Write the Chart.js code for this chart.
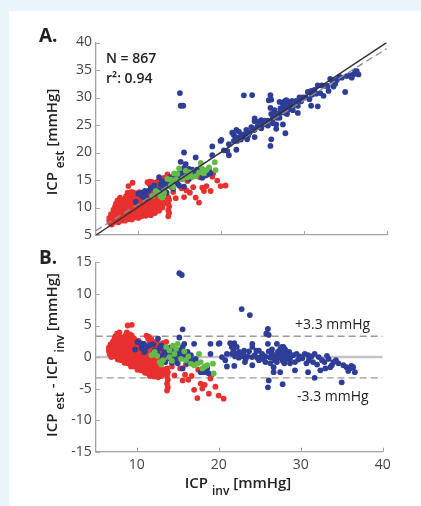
<!DOCTYPE html>
<html><head><meta charset="utf-8">
<script src="https://cdn.jsdelivr.net/npm/chart.js@4.4.1/dist/chart.umd.min.js"></script>
<style>
html,body{margin:0;padding:0;}
body{width:421px;height:506px;background:#e9f4fb;position:relative;overflow:hidden;}
#panel{position:absolute;left:9px;top:11px;width:412px;height:495px;background:#fff;}
canvas{position:absolute;left:0;}
#ca{top:0;}
#cb{top:250px;}
</style></head><body>
<div id="panel"></div>
<canvas id="ca" width="421" height="250"></canvas>
<canvas id="cb" width="421" height="256"></canvas>
<script>
// ---- data (ICP_inv, ICP_est - ICP_inv) per patient group ----
const xTicks = [10, 20, 30, 40];
const yTicksA = [5, 10, 15, 20, 25, 30, 35, 40];
const yTicksB = [-15, -10, -5, 0, 5, 10, 15];
const identityLine = [[5, 5], [40, 40]];
const regressionLine = [[5, 5.8], [40, 38.9]];
const limitValues = [3.3, -3.3];
const statsText = ['N = 867', 'r\u00b2: 0.94'];

const redPts = [
[8.9,5.0],[9.4,5.1],
[7.6,3.7],[7.9,3.9],[8.8,3.9],[9.2,3.6],
[7.4,3.3],[7.8,3.4],[8.6,3.4],[9.0,3.3],[9.4,3.4],[11.2,3.4],[11.5,3.2],
[7.3,2.9],[7.7,3.0],[8.1,3.1],[8.5,2.9],[8.9,3.0],[9.3,3.0],[9.7,2.9],[11.4,2.9],[11.8,2.8],
[7.1,2.5],[7.5,2.5],[7.9,2.6],[8.3,2.4],[8.7,2.5],[9.1,2.6],[9.5,2.5],[9.9,2.4],[10.2,2.6],[11.6,2.5],[12.0,2.4],[12.4,2.3],[12.8,2.0],[13.2,2.2],[13.6,2.4],
[6.8,2.0],[7.2,2.0],[7.6,2.1],[8.0,1.9],[8.4,2.0],[8.8,2.1],[9.2,2.0],[9.6,1.9],[10.0,2.0],[10.5,1.9],[11.8,2.0],[12.2,1.9],[12.6,1.7],[13.0,1.5],[13.3,1.3],
[6.6,1.5],[7.0,1.5],[7.4,1.6],[7.8,1.5],[8.2,1.4],[8.6,1.5],[9.0,1.6],[9.4,1.5],[9.8,1.4],[10.2,1.5],[10.6,1.4],[11.0,1.5],[11.4,1.4],[12.0,1.3],[12.6,1.1],[13.1,0.9],[13.5,0.7],
[6.6,1.0],[7.0,1.0],[7.4,0.9],[7.8,1.0],[8.2,1.1],[8.6,1.0],[9.0,0.9],[9.4,1.0],[9.8,1.0],[10.2,0.9],[10.6,1.0],[11.0,0.9],[11.4,1.0],[11.8,0.8],[12.3,0.6],[12.8,0.5],[13.3,0.3],
[6.7,0.5],[7.1,0.5],[7.5,0.4],[7.9,0.5],[8.3,0.5],[8.7,0.4],[9.1,0.5],[9.5,0.5],[9.9,0.4],[10.3,0.5],[10.7,0.4],[11.1,0.5],[11.5,0.3],[11.9,0.2],[12.4,0.1],[12.9,-0.1],
[6.9,0.0],[7.3,0.1],[7.7,0.0],[8.1,-0.1],[8.5,0.0],[8.9,0.0],[9.3,-0.1],[9.7,0.0],[10.1,0.0],[10.5,-0.1],[10.9,0.0],[11.3,-0.2],[11.7,-0.3],[12.1,-0.4],[12.6,-0.5],[13.0,-0.6],
[7.7,-0.4],[8.1,-0.5],[8.5,-0.5],[8.9,-0.6],[9.3,-0.5],[9.7,-0.5],[10.1,-0.6],[10.5,-0.5],[10.9,-0.6],[11.3,-0.7],[11.7,-0.8],[12.1,-0.9],[12.5,-1.0],[12.9,-1.1],
[8.5,-0.9],[8.9,-1.0],[9.3,-1.0],[9.7,-1.1],[10.1,-1.0],[10.5,-1.1],[10.9,-1.2],[11.3,-1.2],[11.7,-1.3],[12.1,-1.4],[12.5,-1.5],[12.9,-1.6],
[9.3,-1.5],[9.7,-1.5],[10.1,-1.6],[10.5,-1.6],[10.9,-1.7],[11.3,-1.7],[11.7,-1.8],[12.1,-1.9],[12.5,-2.0],[12.9,-2.1],[13.4,-2.0],
[10.1,-2.0],[10.5,-2.1],[10.9,-2.2],[11.3,-2.2],[11.7,-2.3],[12.1,-2.4],[12.5,-2.5],[12.9,-2.6],[13.3,-2.5],
[11.0,-2.5],[11.4,-2.6],[11.8,-2.7],[12.2,-2.8],[12.6,-2.9],[13.0,-3.0],
[11.6,-3.0],[12.1,-3.1],[12.6,-3.2],
[13.7,-1.8],[13.8,-2.4],[13.7,-3.0],[13.8,-3.6],[13.7,-4.2],[13.8,-4.8],[13.7,-5.3],
[14.3,-1.5],[14.6,-2.9],[15.3,-1.8],[15.6,-3.7],[15.9,-2.8],[16.0,-1.2],[16.3,-3.6],[16.7,-3.0],[17.0,-5.2],[17.4,-6.5],
[17.5,-2.0],[17.8,-4.2],[18.0,-5.0],[18.3,-4.4],[18.5,-1.6],[18.8,-5.8],[19.0,-3.4],[19.1,-2.9],[19.6,-4.7],[20.0,-6.1],[20.6,-6.6]
];

const greenPts = [
[11.8,0.3],[12.2,0.8],[12.5,0.2],[12.8,-0.8],[13.0,-1.2],[13.2,-0.5],[13.6,1.6],[14.0,0.0],[14.0,1.05],[14.3,-0.6],
[14.4,1.8],[14.6,0.5],[14.8,1.3],[15.0,2.1],[15.4,-0.3],[15.8,0.9],[16.0,-0.5],[16.3,0.1],[16.6,-1.05],[17.0,-1.3],
[17.4,-1.05],[17.6,0.5],[17.8,-0.8],[18.0,-1.8],[18.3,-1.5],[18.6,-1.3],[19.3,-1.05],[19.4,-2.6]
];

const bluePts = [
[15.1,15.7],[15.2,13.3],[15.5,13.0],
[9.8,1.2],[10.1,2.4],[10.5,2.2],[10.9,2.1],[10.6,1.4],[10.9,0.8],[11.3,1.7],[11.0,1.0],[11.6,1.9],[12.0,2.0],[12.6,2.9],
[12.2,1.0],[12.5,0.6],[12.8,1.4],[13.0,0.2],[13.0,1.8],[13.2,-0.3],[13.4,0.8],[13.5,-0.8],[13.6,1.2],[13.8,0.4],
[14.0,-0.2],[14.0,1.5],[14.2,0.6],[14.3,-0.9],[14.4,1.0],[14.6,0.2],[14.8,-0.4],[15.0,0.5],[15.0,-1.0],[15.2,1.1],
[15.4,0.0],[15.6,0.7],[15.8,-0.2],[16.0,0.4],[16.2,0.8],[16.4,-0.5],[16.6,0.3],[16.8,-0.6],[17.2,-0.3],[16.2,-1.0],
[15.6,1.6],[15.8,2.1],[15.2,3.1],[15.6,4.4],[17.0,2.1],[15.6,-1.8],[17.8,-2.4],[18.2,-2.4],[18.4,-2.4],[18.6,-1.8],
[18.8,-2.6],[19.0,2.1],[19.0,0.5],[20.0,2.1],
[22.8,7.6],[23.8,6.65],[26.0,4.45],[25.8,3.7],[26.1,3.5],[26.0,2.1],[20.1,2.2],[21.4,2.2],[21.9,2.2],[21.6,1.6],
[22.2,1.6],[24.1,1.6],[20.4,0.0],[20.8,-0.5],[21.0,-1.5],[21.9,-1.4],
[22.45,-0.1],[22.86,0.1],[23.5,0.1],[24.07,0.0],[24.7,-0.1],[25.1,0.0],[25.7,0.1],[26.3,-0.1],[26.9,0.1],[27.3,0.3],
[27.9,0.0],[28.3,0.3],[28.7,-0.3],[29.1,0.3],[29.5,0.5],[29.9,0.1],[30.5,0.5],[30.9,0.3],[31.3,0.1],[31.7,0.5],
[32.2,0.0],[32.6,-0.5],[32.9,-0.8],[33.4,-0.3],[33.8,-1.3],[34.3,-0.5],[34.6,-1.0],[35.2,-1.3],[35.6,-1.6],[36.0,-1.8],
[36.4,-1.6],[36.6,-2.4],
[26.0,-4.8],[26.1,-3.7],[26.7,-2.4],[27.5,-2.4],[27.8,-4.3],[26.7,-1.6],[24.1,-1.3],[23.2,-0.8],[24.9,-0.5],[31.7,-3.3],
[35.0,-4.0],[29.3,-2.1],[30.9,-2.4],[32.4,-2.1],[33.0,-1.8],[33.6,-1.6],[28.7,-1.0],[29.3,-0.8],[28.0,-1.0],[27.1,-0.8],
[26.3,-1.0],[25.7,-0.8],[30.7,-1.0],[31.5,-0.8],
[24.1,2.1],[24.6,1.0],[26.1,0.9],[26.5,1.2],[27.2,0.8],[27.5,1.3],[28.1,1.2],[28.4,0.5],[24.9,1.0],[23.7,0.9],
[23.1,1.0],[22.5,0.8],[21.8,1.0],[21.6,0.5],[21.0,0.5],[22.2,0.5],[25.3,0.5],[27.1,2.1],[27.7,1.6],[27.9,1.6],
[26.6,0.4],[27.0,-0.3],[27.4,-0.1],[27.6,0.6],[28.0,0.4],[28.2,-0.4],[28.5,0.0],[26.8,-0.5],[27.8,-0.6],[28.6,0.8],
[26.4,0.2],[23.0,0.4],[23.3,-0.3],[22.0,0.1],[25.5,-0.4],[24.4,0.3],[29.7,-0.4],[30.2,-0.2],[31.0,-0.5],[33.2,0.2],
[34.0,-0.8],[35.8,-2.2],[36.2,-1.4],[32.0,-1.2]
];

// ---- styling ----
const RED = '#e8312f', GREEN = '#63bb46', BLUE = '#2e3e98';
const AXIS = '#a3a3a3';
const TICKFONT = {family: '"Open Sans", "DejaVu Sans", sans-serif', size: 14, weight: 400};
const FAM = '"Open Sans", "DejaVu Sans", sans-serif';

const toA = pts => pts.map(p => ({x: p[0], y: p[0] + p[1]}));
const toB = pts => pts.map(p => ({x: p[0], y: p[1]}));
const lineData = arr => arr.map(p => ({x: p[0], y: p[1]}));

function pointDs(data, color) {
  return {data, backgroundColor: color, borderWidth: 0, pointRadius: 2.9, pointHoverRadius: 2.9, clip: 0};
}

function drawRich(ctx, segs, cx, cy, rot, color) {
  ctx.save();
  ctx.translate(cx, cy);
  if (rot) ctx.rotate(rot);
  ctx.fillStyle = color;
  ctx.textBaseline = 'alphabetic';
  ctx.textAlign = 'left';
  let w = 0;
  segs.forEach(s => { ctx.font = s.font; s.w = ctx.measureText(s.t).width; w += s.w; });
  let x = -w / 2;
  segs.forEach(s => { ctx.font = s.font; ctx.fillText(s.t, x, s.dy || 0); x += s.w; });
  ctx.restore();
}

const inwardTicks = {
  id: 'inwardTicks',
  afterDraw(chart) {
    const ctx = chart.ctx;
    ctx.save();
    ctx.strokeStyle = AXIS;
    ctx.lineWidth = 1;
    const xs = chart.scales.x, ys = chart.scales.y;
    const a = chart.chartArea;
    xs.ticks.forEach(t => {
      const px = Math.round(xs.getPixelForValue(t.value)) + 0.5;
      ctx.beginPath(); ctx.moveTo(px, a.bottom); ctx.lineTo(px, a.bottom - 4); ctx.stroke();
    });
    ys.ticks.forEach(t => {
      const py = Math.round(ys.getPixelForValue(t.value)) + 0.5;
      ctx.beginPath(); ctx.moveTo(a.left, py); ctx.lineTo(a.left + 4, py); ctx.stroke();
    });
    ctx.restore();
  }
};

const MAIN = '600 15px ' + FAM, SUB = '600 12px ' + FAM;

const textA = {
  id: 'textA',
  afterDraw(chart) {
    const ctx = chart.ctx;
    ctx.save();
    ctx.fillStyle = '#222';
    ctx.font = '700 19px ' + FAM;
    ctx.textAlign = 'left'; ctx.textBaseline = 'alphabetic';
    ctx.fillText('A.', 39, 42);
    ctx.font = '600 14px ' + FAM;
    ctx.fillText(statsText[0], 106, 63);
    ctx.fillText(statsText[1], 106, 83);
    ctx.restore();
    drawRich(ctx, [{t: 'ICP ', font: MAIN}, {t: 'est', font: SUB, dy: 7}, {t: ' [mmHg]', font: MAIN}], 57, 142, -Math.PI / 2, '#222');
  }
};

const textB = {
  id: 'textB',
  afterDraw(chart) {
    const ctx = chart.ctx;
    ctx.save();
    ctx.fillStyle = '#222';
    ctx.font = '700 19px ' + FAM;
    ctx.textAlign = 'left'; ctx.textBaseline = 'alphabetic';
    ctx.fillText('B.', 39, 14);
    ctx.font = '500 14px ' + FAM;
    ctx.fillText('+3.3 mmHg', 295, 79);
    ctx.fillText('-3.3 mmHg', 297, 151);
    ctx.restore();
    drawRich(ctx, [{t: 'ICP ', font: MAIN}, {t: 'est', font: SUB, dy: 7}, {t: ' - ICP ', font: MAIN}, {t: 'inv', font: SUB, dy: 7}, {t: ' [mmHg]', font: MAIN}], 57, 105, -Math.PI / 2, '#222');
    drawRich(ctx, [{t: 'ICP ', font: MAIN}, {t: 'inv', font: SUB, dy: 7}, {t: ' [mmHg]', font: MAIN}], 238, 238, 0, '#222');
  }
};

function xScale(showLabels, fitH) {
  return {
    type: 'linear', min: 5, max: 40,
    afterBuildTicks: s => { s.ticks = xTicks.map(v => ({value: v})); },
    ticks: {display: showLabels, color: '#444', font: TICKFONT, padding: 5, maxRotation: 0, autoSkip: false},
    grid: {display: true, drawOnChartArea: false, drawTicks: false},
    border: {display: true, color: AXIS, width: 1.3},
    afterFit: s => { s.height = fitH; }
  };
}
function yScale(min, max, ticksArr, fitW) {
  return {
    type: 'linear', min, max,
    afterBuildTicks: s => { s.ticks = ticksArr.map(v => ({value: v})); },
    ticks: {color: '#444', font: TICKFONT, padding: 4, autoSkip: false},
    grid: {display: true, drawOnChartArea: false, drawTicks: false},
    border: {display: true, color: AXIS, width: 1.3},
    afterFit: s => { s.width = fitW; }
  };
}

const common = {
  responsive: false, animation: false, devicePixelRatio: 1,
  plugins: {legend: {display: false}, tooltip: {enabled: false}},
  events: []
};

new Chart(document.getElementById('ca'), {
  type: 'scatter',
  data: {datasets: [
    {data: lineData(identityLine), showLine: true, borderColor: '#333', borderWidth: 1.4, pointRadius: 0, fill: false},
    {data: lineData(regressionLine), showLine: true, borderColor: '#8a8a8a', borderWidth: 1.3, borderDash: [7, 4], pointRadius: 0, fill: false},
    pointDs(toA(greenPts), GREEN),
    pointDs(toA(bluePts), BLUE),
    pointDs(toA(redPts), RED)
  ]},
  options: Object.assign({}, common, {
    layout: {padding: {left: 0, right: 34.3, top: 42.5, bottom: 0}},
    scales: {x: xScale(false, 15), y: yScale(5, 40, yTicksA, 96)}
  }),
  plugins: [inwardTicks, textA]
});

new Chart(document.getElementById('cb'), {
  type: 'scatter',
  data: {datasets: [
    pointDs(toB(greenPts), GREEN),
    pointDs(toB(bluePts), BLUE),
    pointDs(toB(redPts), RED),
    {data: [{x: 5, y: 0}, {x: 40, y: 0}], showLine: true, borderColor: '#c4c4c4', borderWidth: 2.5, pointRadius: 0, fill: false},
    {data: [{x: 5, y: limitValues[0]}, {x: 40, y: limitValues[0]}], showLine: true, borderColor: '#9a9a9a', borderWidth: 1.3, borderDash: [7, 4], pointRadius: 0, fill: false},
    {data: [{x: 5, y: limitValues[1]}, {x: 40, y: limitValues[1]}], showLine: true, borderColor: '#9a9a9a', borderWidth: 1.3, borderDash: [7, 4], pointRadius: 0, fill: false}
  ]},
  options: Object.assign({}, common, {
    layout: {padding: {left: 0, right: 38.3, top: 11, bottom: 0}},
    scales: {x: xScale(true, 54.3), y: yScale(-15, 15, yTicksB, 95.7)}
  }),
  plugins: [inwardTicks, textB]
});
</script>
</body></html>
